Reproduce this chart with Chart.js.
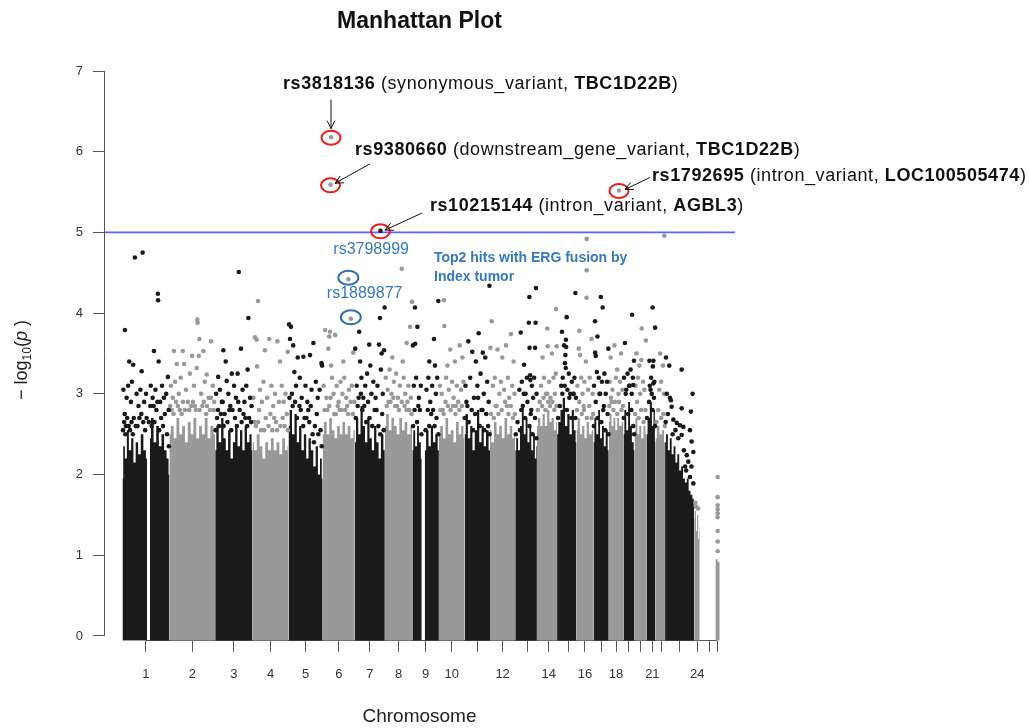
<!DOCTYPE html>
<html>
<head>
<meta charset="utf-8">
<script src="https://cdn.jsdelivr.net/npm/chart.js"></script>
<style>
  html, body { margin: 0; padding: 0; background: #fff; }
</style>
</head>
<body>
<canvas id="manhattan" width="1029" height="728"></canvas>
<script>
// ---- chromosome layout (Mb) ----
const chrNames = ['1','2','3','4','5','6','7','8','9','10','11','12','13','14','15','16','17','18','19','20','21','22','23','24','25','26'];
const chrLength = [249,243,198,191,181,171,159,146,141,136,135,134,115,107,103,90,81,78,59,63,48,51,155,59,44,42];
// span of the snps on each chromosome, the tick sits in the middle
const chrSpan = [[0,249],[0,243],[0,198],[0,191],[0,181],[0,171],[0,159],[0,146],[0,141],[0,136],[0,135],[0,134],[19,115],[19,107],[20,102],[0,90],[0,81],[0,78],[0,59],[0,63],[15,48],[16,51],[0,155],[3,28],[0,44],[20,22]];
const tickShown = ['1','2','3','4','5','6','7','8','9','10','','12','','14','','16','','18','','','21','','','24','',''];
const yTicks = [0, 1, 2, 3, 4, 5, 6, 7];
const suggestive = 5;

// ---- dense body of each chromosome: [pos Mb, -log10 p at the top of the solid mass] ----
const chr1Top = [[0,1.95],[8,2.35],[18,2.2],[28,2.55],[40,2.3],[52,2.45],[64,2.15],[76,2.4],[90,2.25],[104,2.5],[118,2.3],[131,2.2],[138,null],[145,2.45],[158,2.7],[172,2.4],[186,2.6],[200,2.35],[214,2.5],[228,2.3],[240,2.2],[249,2.0]];
const chr2Top = [[0,2.5],[15,2.6],[30,2.45],[45,2.7],[60,2.5],[75,2.6],[90,2.4],[105,2.65],[120,2.5],[135,2.7],[150,2.45],[165,2.6],[180,2.5],[195,2.7],[210,2.45],[225,2.6],[243,2.5]];
const chr3Top = [[0,2.3],[12,2.6],[25,2.4],[38,2.7],[50,2.45],[62,2.3],[75,2.55],[88,2.2],[100,2.4],[112,2.6],[125,2.35],[138,2.55],[150,2.3],[162,2.6],[175,2.4],[188,2.5],[198,2.3]];
const chr4Top = [[0,2.4],[15,2.3],[30,2.5],[45,2.35],[60,2.2],[75,2.4],[90,2.3],[105,2.45],[120,2.3],[135,2.4],[150,2.25],[165,2.45],[180,2.3],[191,2.35]];
const chr5Top = [[0,2.6],[12,2.8],[25,2.5],[38,2.75],[50,2.4],[62,2.6],[75,2.3],[88,2.5],[100,2.2],[112,2.45],[125,2.3],[138,2.1],[150,2.35],[162,2.0],[172,2.2],[181,1.95]];
const chr6Top = [[0,2.5],[14,2.65],[28,2.5],[42,2.7],[56,2.55],[70,2.45],[84,2.6],[98,2.5],[112,2.65],[126,2.5],[140,2.6],[155,2.45],[171,2.55]];
const chr7Top = [[0,2.4],[12,2.7],[24,2.5],[36,2.85],[48,2.6],[60,2.4],[72,2.7],[84,2.45],[96,2.3],[108,2.6],[120,2.4],[132,2.2],[144,2.5],[159,2.3]];
const chr8Top = [[0,2.6],[14,2.75],[28,2.55],[42,2.7],[56,2.6],[70,2.5],[84,2.7],[98,2.55],[112,2.65],[126,2.5],[146,2.6]];
const chr9Top = [[0,2.3],[10,2.55],[20,2.35],[30,2.6],[40,2.4],[50,2.2],[58,null],[66,2.3],[80,2.55],[92,2.35],[104,2.6],[116,2.4],[128,2.5],[141,2.3]];
const chr10Top = [[0,2.5],[14,2.6],[28,2.45],[42,2.7],[56,2.5],[70,2.55],[84,2.4],[98,2.65],[112,2.5],[124,2.6],[136,2.45]];
const chr11Top = [[0,2.5],[12,2.75],[24,2.45],[36,2.6],[48,2.3],[60,2.55],[72,2.8],[84,2.4],[96,2.6],[108,2.35],[120,2.55],[135,2.3]];
const chr12Top = [[0,2.55],[14,2.4],[28,2.65],[42,2.5],[56,2.6],[70,2.45],[84,2.7],[98,2.5],[112,2.6],[124,2.45],[134,2.5]];
const chr13Top = [[0,2.3],[10,2.45],[20,2.3],[30,2.6],[40,2.85],[50,2.5],[60,2.7],[70,2.4],[80,2.6],[90,2.3],[100,2.5],[108,2.2],[115,2.35]];
const chr14Top = [[0,2.6],[12,2.7],[24,2.6],[36,2.75],[48,2.6],[60,2.8],[72,2.65],[84,2.7],[96,2.55],[107,2.65]];
const chr15Top = [[0,2.5],[12,2.65],[24,2.8],[36,2.95],[48,2.6],[60,2.75],[72,2.5],[84,2.8],[94,2.55],[103,2.4]];
const chr16Top = [[0,2.55],[12,2.7],[24,2.5],[36,2.6],[48,2.45],[60,2.65],[72,2.5],[90,2.55]];
const chr17Top = [[0,2.4],[10,2.7],[20,2.5],[30,2.8],[40,2.45],[50,2.6],[60,2.35],[70,2.55],[81,2.3]];
const chr18Top = [[0,2.65],[10,2.75],[20,2.6],[30,2.7],[40,2.55],[50,2.7],[60,2.6],[78,2.65]];
const chr19Top = [[0,2.5],[10,2.8],[20,2.55],[30,2.9],[40,2.6],[50,2.4],[59,2.3]];
const chr20Top = [[0,2.55],[10,2.7],[20,2.5],[30,2.6],[42,2.45],[52,2.6],[63,2.5]];
const chr21Top = [[0,2.5],[12,2.7],[24,2.9],[34,2.6],[42,2.8],[48,2.4]];
const chr22Top = [[0,2.45],[14,2.6],[28,2.5],[40,2.55],[51,2.4]];
const chr23Top = [[0,2.4],[10,2.5],[20,2.3],[30,2.45],[40,2.25],[50,2.35],[60,2.15],[70,2.25],[80,2.05],[90,2.1],[100,1.95],[110,1.9],[120,1.95],[130,1.8],[140,1.75],[150,1.7],[155,1.6]];
const chr24Top = [[0,1.45],[6,1.55],[12,1.3],[18,1.5],[24,1.2],[29,1.35]];
const chr25Top = [];
const chr26Top = [[9,0.95],[32,0.92]];

// ---- scattered snps above the dense body: [pos Mb, -log10 p] ----
const chr1Pts = [[66,4.69],[107,4.75],[188,4.24],[189,4.16],[13,3.79],[167,3.53],[192,3.40],[36,3.40],[57,3.36],[102,3.28],[241,3.21],[5,3.05],[22,2.95],[30,3.1],[45,2.9],[50,3.15],[75,3.0],[85,2.85],[95,3.05],[115,2.9],[125,3.0],[150,3.1],[160,2.95],[175,3.05],[200,2.9],[210,3.1],[220,2.95],[232,3.0],[245,2.8],[12,2.75],[60,2.7],[90,2.7],[140,2.65],[180,2.8],[225,2.75],[18,2.6],[40,2.55],[70,2.6],[110,2.65],[165,2.85],[205,2.7],
  [3,2.55],[9,2.65],[15,2.5],[25,2.7],[33,2.6],[48,2.65],[55,2.5],[80,2.6],[100,2.75],[120,2.55],[128,2.7],[148,2.85],[155,2.6],[170,2.65],[185,2.9],[195,2.55],[215,2.6],[236,2.5],[246,2.35]];
const chr2Pts = [[148,3.92],[150,3.88],[159,3.68],[221,3.65],[24,3.53],[71,3.53],[120,3.47],[156,3.47],[180,3.53],[39,3.37],[78,3.37],[109,3.25],[145,3.32],[198,3.24],[8,3.1],[18,2.95],[30,3.15],[50,3.0],[60,3.2],[88,3.05],[98,2.9],[130,3.1],[168,3.0],[188,3.15],[208,2.95],[230,3.1],[238,2.9],[12,2.8],[45,2.85],[115,2.85],[175,2.85],[215,2.8],[65,2.75],[140,2.8],[195,2.75],
  [4,2.85],[22,2.75],[35,2.9],[55,2.8],[72,2.9],[82,2.8],[105,2.8],[125,2.9],[135,2.85],[160,2.8],[182,2.9],[200,2.85],[220,2.95],[235,2.8]];
const chr3Pts = [[125,4.51],[176,3.94],[137,3.56],[43,3.54],[56,3.40],[16,3.21],[88,3.25],[119,3.25],[172,3.30],[61,3.16],[5,3.0],[25,3.05],[35,2.9],[70,3.0],[80,2.85],[100,3.1],[110,2.95],[145,3.05],[155,2.9],[165,3.1],[185,2.95],[193,2.85],[30,2.75],[92,2.8],[150,2.75],[10,2.7],[50,2.75],[130,2.8],[180,2.7],
  [2,2.55],[15,2.8],[20,2.6],[40,2.9],[45,2.6],[65,2.65],[75,2.8],[85,2.55],[105,2.7],[115,2.6],[122,2.9],[140,2.65],[160,2.7],[170,2.6],[190,2.65]];
const chr4Pts = [[29,4.15],[13,3.70],[22,3.67],[89,3.68],[132,3.65],[66,3.54],[146,3.40],[187,3.52],[24,3.34],[5,2.95],[40,3.05],[50,2.9],[58,3.15],[78,2.95],[100,3.1],[110,2.85],[120,3.0],[140,2.9],[155,3.1],[165,2.9],[175,3.0],[35,2.8],[95,2.75],[160,2.7],[70,2.7],[125,2.65],[182,2.75],
  [10,2.65],[18,2.6],[30,2.65],[45,2.55],[62,2.55],[85,2.6],[105,2.55],[115,2.7],[130,2.55],[148,2.6],[170,2.6],[188,2.55]];
const chr5Pts = [[3,3.86],[13,3.83],[8,3.68],[25,3.60],[132,3.63],[49,3.45],[79,3.46],[114,3.48],[31,3.27],[175,3.38],[178,3.35],[40,3.1],[60,3.2],[70,2.95],[90,3.1],[100,2.9],[122,3.05],[145,3.15],[155,2.95],[165,3.05],[58,2.85],[105,2.8],[150,2.75],[18,3.0],[85,2.7],[140,2.6],[170,2.55],
  [5,2.95],[22,2.85],[35,2.9],[45,2.7],[65,2.8],[78,2.6],[95,2.7],[110,2.65],[118,2.85],[128,2.5],[135,2.4],[158,2.5],[176,2.35]];
const chr6Pts = [[13,3.79],[39,3.77],[66,3.73],[35,3.71],[30,3.56],[163,3.51],[5,3.1],[20,2.95],[50,3.2],[58,3.0],[75,3.1],[85,2.9],[95,3.15],[105,3.0],[115,3.2],[125,2.95],[140,3.05],[155,3.1],[168,2.9],[25,2.8],[90,2.8],[130,2.85],[45,3.35],[110,3.4],[70,2.75],
  [10,2.8],[35,2.85],[42,2.95],[62,2.75],[80,2.85],[100,2.8],[120,2.8],[135,2.75],[148,2.9],[160,2.75]];
const chr7Pts = [[158,4.07],[133,3.94],[23,3.77],[76,3.61],[128,3.61],[2,3.56],[142,3.50],[155,3.54],[10,3.1],[35,3.2],[45,2.95],[55,3.1],[65,3.25],[88,3.0],[98,3.15],[110,2.95],[120,3.1],[148,3.0],[40,2.8],[105,2.8],[15,2.85],[28,3.4],[82,3.35],[138,3.3],
  [5,2.7],[20,2.95],[32,3.0],[50,2.85],[60,2.65],[70,2.9],[78,2.7],[92,2.6],[115,2.8],[125,2.6],[135,2.5],[145,2.75],[153,2.55]];
const chr8Pts = [[90,4.55],[144,4.14],[134,3.83],[116,3.63],[5,3.2],[15,3.05],[25,3.3],[35,3.0],[48,3.15],[60,3.25],[70,2.95],[80,3.1],[100,3.2],[108,3.0],[125,3.1],[138,2.95],[20,2.9],[65,2.85],[120,2.9],[40,3.45],[95,3.4],
  [10,2.85],[30,2.9],[45,2.95],[55,2.85],[75,2.8],[90,2.9],[105,2.85],[115,2.8],[130,2.8],[142,2.75]];
const chr9Pts = [[14,4.07],[138,4.15],[27,3.83],[15,3.62],[3,3.60],[115,3.68],[8,3.1],[20,3.2],[35,2.95],[45,3.1],[75,3.05],[85,3.2],[95,2.9],[105,3.1],[125,3.0],[132,3.2],[40,2.8],[100,2.75],[90,3.4],[120,3.35],
  [4,2.6],[12,2.8],[25,2.65],[32,2.85],[48,2.5],[70,2.55],[82,2.8],[90,2.6],[110,2.8],[118,2.6],[128,2.7],[138,2.5]];
const chr10Pts = [[27,4.16],[29,3.84],[60,3.55],[85,3.4],[110,3.6],[45,3.35],[125,3.45],[5,3.1],[15,3.0],[38,3.2],[52,3.05],[70,3.15],[78,2.95],[95,3.1],[102,2.9],[118,3.05],[130,3.15],[20,2.8],[90,2.85],
  [8,2.8],[25,2.75],[35,2.9],[48,2.85],[62,2.8],[75,2.85],[88,2.75],[108,2.8],[122,2.85],[134,2.7]];
const chr11Pts = [[132,4.34],[41,3.52],[97,3.51],[20,3.65],[60,3.4],[75,3.75],[110,3.45],[5,3.1],[30,3.2],[50,2.95],[68,3.1],[85,3.25],[102,3.0],[120,3.15],[128,2.9],[15,2.85],[90,2.8],
  [3,2.7],[10,2.9],[22,2.65],[38,2.8],[45,2.55],[56,2.75],[72,2.95],[80,2.6],[95,2.8],[105,2.55],[115,2.75],[125,2.6],[133,2.5]];
const chr12Pts = [[9,3.9],[2,3.57],[111,3.74],[40,3.55],[65,3.45],[85,3.6],[125,3.4],[15,3.1],[25,3.2],[50,3.0],[58,3.15],[75,3.05],[95,3.2],[102,2.95],[118,3.1],[130,3.0],[30,2.85],[90,2.85],
  [5,2.75],[20,2.7],[35,2.85],[45,2.75],[62,2.8],[80,2.9],[98,2.75],[110,2.85],[122,2.7],[132,2.75]];
const chr13Pts = [[110,4.31],[75,4.2],[72,3.88],[108,3.88],[29,3.76],[76,3.57],[105,3.57],[47,3.36],[79,3.23],[80,3.17],[22,3.05],[35,3.15],[55,3.0],[62,3.2],[88,3.1],[95,2.95],[100,3.2],[113,3.0],[40,2.85],[85,2.8],
  [3,2.5],[12,2.65],[25,2.55],[32,2.8],[45,3.0],[52,2.7],[65,2.9],[75,2.6],[82,2.75],[92,2.5],[105,2.7],[112,2.45]];
const chr14Pts = [[101,4.05],[55,3.81],[57,3.59],[105,3.59],[30,3.45],[80,3.5],[22,3.1],[38,3.2],[48,3.0],[65,3.15],[72,2.95],[88,3.2],[95,3.0],[100,3.25],[28,2.85],[60,2.9],
  [5,2.8],[15,2.9],[35,2.95],[45,2.8],[55,3.0],[70,2.85],[82,2.9],[92,2.8],[104,2.85]];
const chr15Pts = [[97,4.25],[51,3.95],[26,3.77],[47,3.67],[37,3.6],[48,3.58],[44,3.48],[42,3.38],[46,3.32],[22,3.1],[30,3.2],[55,3.05],[62,3.25],[70,3.0],[78,3.15],[85,3.0],[92,3.2],[100,2.95],
  [5,2.7],[15,2.85],[28,3.0],[40,3.1],[52,2.8],[65,2.95],[75,2.7],[88,3.0],[97,2.7]];
const chr16Pts = [[54,4.92],[54,4.53],[53,4.19],[15,3.78],[12,3.56],[19,3.48],[50,3.40],[80,3.68],[5,3.1],[25,3.2],[32,3.0],[42,3.15],[62,3.05],[70,3.2],[86,3.0],[38,2.85],
  [3,2.8],[15,2.9],[28,2.75],[40,2.8],[55,2.7],[68,2.85],[80,2.7],[88,2.75]];
const chr17Pts = [[39,4.2],[49,4.07],[8,3.9],[21,3.71],[79,3.56],[9,3.51],[12,3.47],[18,3.27],[3,3.1],[28,3.2],[35,3.0],[45,3.15],[58,3.25],[65,3.0],[72,3.15],[55,2.85],
  [2,2.6],[12,2.9],[22,2.7],[32,3.0],[42,2.65],[52,2.8],[62,2.55],[75,2.75],[80,2.5]];
const chr18Pts = [[10,3.45],[30,3.6],[45,3.3],[65,3.5],[5,3.15],[20,3.05],[38,3.2],[52,3.0],[60,3.15],[72,3.05],[15,2.9],
  [3,2.85],[12,2.95],[25,2.8],[33,2.9],[45,2.75],[55,2.9],[68,2.8],[76,2.85]];
const chr19Pts = [[46,3.98],[8,3.63],[56,3.41],[52,3.11],[3,3.2],[15,3.05],[22,3.25],[30,3.1],[38,3.3],[44,3.0],[50,3.2],
  [2,2.7],[12,3.0],[25,2.75],[33,3.1],[42,2.8],[52,2.6],[57,2.5]];
const chr20Pts = [[38,3.81],[60,3.66],[36,3.42],[10,3.5],[25,3.35],[5,3.1],[18,3.2],[30,3.0],[45,3.15],[52,3.05],
  [3,2.75],[13,2.9],[22,2.7],[35,2.8],[48,2.65],[58,2.8]];
const chr21Pts = [[33,4.07],[46,3.82],[16,3.41],[37,3.41],[34,3.34],[37,3.13],[18,3.1],[25,3.2],[28,3.0],[42,3.15],
  [3,2.7],[14,2.9],[22,3.05],[32,2.8],[40,2.95],[46,2.6]];
const chr22Pts = [[47,4.96],[25,3.5],[40,3.35],[20,3.05],[30,3.15],[45,3.0],
  [5,2.65],[15,2.8],[30,2.7],[42,2.75],[50,2.6]];
const chr23Pts = [[5,3.45],[22,3.35],[88,3.3],[146,3.0],[137,2.78],[9,3.0],[31,2.92],[88,2.82],[26,2.95],[35,2.84],[44,2.68],[62,2.64],[79,2.61],[97,2.59],[132,2.55],[88,2.49],[141,2.41],[150,2.28],[115,2.24],[123,2.16],[106,2.1],[132,1.97],[150,1.89],
  [3,2.65],[15,2.75],[40,2.5],[55,2.55],[70,2.45],[100,2.3],[112,2.05],[140,2.1]];
const chr24Pts = [[10,1.6],[20,1.58],[6,1.65]];
const chr25Pts = [];
const chr26Pts = [[21,1.97],[21,1.72],[21,1.62],[21,1.57],[21,1.52],[21,1.47],[21,1.3],[21,1.17],[21,1.05]];

// ---- annotated hits ----
const hitId = ['rs3818136', 'rs9380660', 'rs10215144', 'rs1792695', 'rs3798999', 'rs1889877'];
const hitChr = [6, 6, 7, 18, 6, 6];
const hitPos = [44.6, 41.9, 135.8, 54.7, 136.4, 149.6];
const hitLogP = [6.18, 5.59, 5.02, 5.52, 4.42, 3.93];
const hitConsequence = ['synonymous_variant', 'downstream_gene_variant', 'intron_variant', 'intron_variant', '', ''];
const hitGene = ['TBC1D22B', 'TBC1D22B', 'AGBL3', 'LOC100505474', '', ''];
const ergNote = ['Top2 hits with ERG fusion by', 'Index tumor'];

// label placement, pixels relative to the point
const hitLayout = [
  { mark: 'red', text: [-48, -53.5], from: [0, -37.5], to: [0, -8.5] },
  { mark: 'red', text: [24.5, -35], from: [39.5, -21], to: [4.5, -1.5] },
  { mark: 'red', text: [49.5, -24.7], from: [41.5, -17.7], to: [4.5, -0.7] },
  { mark: 'red', text: [33, -14], from: [31, -13], to: [6, -1] },
  { mark: 'blue', text: [-15, -29.3] },
  { mark: 'blue', text: [-24, -25] }
];

const FONT = '"Liberation Sans", Arial, Helvetica, sans-serif';
const BLACK = '#1a1a1a', GRAY = '#999999';
const BLUE_TXT = '#3578bd', RED = '#ee1c1c';
const xMin = -98, xMax = 3250, yMin = -0.06, yMax = 7;

const chrTops = [chr1Top, chr2Top, chr3Top, chr4Top, chr5Top, chr6Top, chr7Top, chr8Top, chr9Top, chr10Top, chr11Top, chr12Top, chr13Top, chr14Top, chr15Top, chr16Top, chr17Top, chr18Top, chr19Top, chr20Top, chr21Top, chr22Top, chr23Top, chr24Top, chr25Top, chr26Top];
const chrPts = [chr1Pts, chr2Pts, chr3Pts, chr4Pts, chr5Pts, chr6Pts, chr7Pts, chr8Pts, chr9Pts, chr10Pts, chr11Pts, chr12Pts, chr13Pts, chr14Pts, chr15Pts, chr16Pts, chr17Pts, chr18Pts, chr19Pts, chr20Pts, chr21Pts, chr22Pts, chr23Pts, chr24Pts, chr25Pts, chr26Pts];

const chrOffset = [];
let acc = 0;
chrLength.forEach(len => { chrOffset.push(acc); acc += len; });
const tickPos = chrSpan.map((s, i) => chrOffset[i] + (s[0] + s[1]) / 2);

const blackPts = [], grayPts = [];
chrPts.forEach((list, i) => {
  list.forEach(([p, v]) => (i % 2 ? grayPts : blackPts).push({ x: chrOffset[i] + p, y: v }));
});
hitId.forEach((id, k) => {
  const i = hitChr[k] - 1;
  (i % 2 ? grayPts : blackPts).push({ x: chrOffset[i] + hitPos[k], y: hitLogP[k] });
});

const datasets = [
  { type: 'scatter', data: blackPts, backgroundColor: BLACK, pointRadius: 2.3, borderWidth: 0, order: 0 },
  { type: 'scatter', data: grayPts, backgroundColor: GRAY, pointRadius: 2.3, borderWidth: 0, order: 0 },
  { type: 'line', data: [{ x: xMin, y: suggestive }, { x: xMax, y: suggestive }], borderColor: 'rgb(96,96,255)', borderWidth: 1.6, pointRadius: 0, order: 1 }
];
chrTops.forEach((top, i) => {
  if (!top.length) return;
  datasets.push({
    type: 'line',
    data: top.map(([p, v]) => ({ x: chrOffset[i] + p, y: v })),
    backgroundColor: i % 2 ? GRAY : BLACK,
    borderColor: 'rgba(0,0,0,0)',
    borderWidth: 1,
    pointRadius: 0,
    stepped: 'middle',
    spanGaps: false,
    fill: 'start',
    order: 2
  });
});

function richText(ctx, x, y, parts, size, color, spacing) {
  ctx.fillStyle = color;
  ctx.textBaseline = 'middle';
  ctx.textAlign = 'left';
  ctx.letterSpacing = spacing || '0px';
  let cx = x;
  parts.forEach(([txt, bold]) => {
    ctx.font = (bold ? 'bold ' : '') + size + 'px ' + FONT;
    ctx.fillText(txt, cx, y);
    cx += ctx.measureText(txt).width;
  });
  ctx.letterSpacing = '0px';
}

function arrow(ctx, x1, y1, x2, y2) {
  const a = Math.atan2(y2 - y1, x2 - x1), h = 9, w = Math.PI / 7;
  ctx.beginPath();
  ctx.moveTo(x1, y1);
  ctx.lineTo(x2, y2);
  ctx.moveTo(x2 - h * Math.cos(a - w), y2 - h * Math.sin(a - w));
  ctx.lineTo(x2, y2);
  ctx.lineTo(x2 - h * Math.cos(a + w), y2 - h * Math.sin(a + w));
  ctx.stroke();
}

const decor = {
  id: 'decor',
  beforeDatasetsDraw(chart) {
    const { ctx, chartArea: a, scales: { x } } = chart;
    ctx.save();
    ctx.strokeStyle = '#555';
    ctx.lineWidth = 1;
    ctx.beginPath();
    const yb = Math.round(a.bottom) - 0.5;
    ctx.moveTo(x.getPixelForValue(tickPos[0]), yb);
    ctx.lineTo(x.getPixelForValue(tickPos[tickPos.length - 1]), yb);
    ctx.stroke();
    ctx.restore();
  },
  afterDraw(chart) {
    const { ctx, chartArea: a, scales: { x, y } } = chart;
    ctx.save();
    // y axis line, 0 .. 7 only
    ctx.strokeStyle = '#555';
    ctx.lineWidth = 1;
    ctx.beginPath();
    const xl = Math.round(a.left) + 0.5;
    ctx.moveTo(xl, y.getPixelForValue(yTicks[yTicks.length - 1]));
    ctx.lineTo(xl, y.getPixelForValue(yTicks[0]));
    ctx.stroke();

    const cx = (a.left + a.right) / 2;
    ctx.fillStyle = '#111';
    ctx.textAlign = 'center';
    ctx.textBaseline = 'middle';
    ctx.font = 'bold 23px ' + FONT;
    ctx.fillText('Manhattan Plot', cx, 22);
    ctx.fillStyle = '#222';
    ctx.font = '19px ' + FONT;
    ctx.fillText('Chromosome', cx, 717);

    // y title: -log10(p)
    ctx.save();
    ctx.translate(21, 360);
    ctx.rotate(-Math.PI / 2);
    const yParts = [['\u2212 log', '', 18, 0], ['10', '', 12, 4], ['(', '', 18, 0], ['p', 'italic ', 18, 0], [' )', '', 18, 0]];
    let total = 0;
    yParts.forEach(([t, st, s]) => { ctx.font = st + s + 'px ' + FONT; total += ctx.measureText(t).width; });
    let px = -total / 2;
    ctx.textAlign = 'left';
    ctx.textBaseline = 'alphabetic';
    ctx.fillStyle = '#222';
    yParts.forEach(([t, st, s, dy]) => {
      ctx.font = st + s + 'px ' + FONT;
      ctx.fillText(t, px, 6 + dy);
      px += ctx.measureText(t).width;
    });
    ctx.restore();

    // hits
    hitId.forEach((id, k) => {
      const i = hitChr[k] - 1;
      const hx = x.getPixelForValue(chrOffset[i] + hitPos[k]);
      const hy = y.getPixelForValue(hitLogP[k]);
      const L = hitLayout[k];
      ctx.lineWidth = 2;
      ctx.beginPath();
      if (L.mark === 'red') {
        ctx.strokeStyle = RED;
        ctx.ellipse(hx, hy + 0.5, 9.5, 7, 0, 0, Math.PI * 2);
        ctx.stroke();
        ctx.strokeStyle = '#111';
        ctx.lineWidth = 1;
        arrow(ctx, hx + L.from[0], hy + L.from[1], hx + L.to[0], hy + L.to[1]);
        richText(ctx, hx + L.text[0], hy + L.text[1],
          [[id, true], [' (' + hitConsequence[k] + ', ', false], [hitGene[k], true], [')', false]], 18, '#111', '0.58px');
      } else {
        ctx.strokeStyle = '#2f6fb3';
        ctx.ellipse(hx, hy - 1.5, 10, 7, 0, 0, Math.PI * 2);
        ctx.stroke();
        richText(ctx, hx + L.text[0], hy + L.text[1], [[id, false]], 16, BLUE_TXT);
      }
    });
    ctx.font = 'bold 14px ' + FONT;
    ctx.fillStyle = BLUE_TXT;
    ctx.textAlign = 'left';
    ctx.textBaseline = 'middle';
    ctx.fillText(ergNote[0], 434, 258);
    ctx.fillText(ergNote[1], 434, 277);
    ctx.restore();
  }
};

new Chart(document.getElementById('manhattan').getContext('2d'), {
  type: 'scatter',
  data: { datasets },
  options: {
    responsive: false,
    animation: false,
    events: [],
    layout: { padding: { left: 0, right: 294, top: 71, bottom: 0 } },
    plugins: {
      legend: { display: false },
      tooltip: { enabled: false },
      title: { display: false }
    },
    scales: {
      x: {
        type: 'linear',
        min: xMin,
        max: xMax,
        afterFit(s) { s.height = 728 - 640.8; },
        afterBuildTicks(s) { s.ticks = tickPos.map(v => ({ value: v })); },
        grid: { drawOnChartArea: false, drawTicks: true, tickLength: 11, color: '#555' },
        border: { display: false },
        ticks: {
          autoSkip: false, maxRotation: 0, minRotation: 0, padding: 15, color: '#333',
          font: { size: 13, family: FONT },
          callback: (v, i) => tickShown[i]
        }
      },
      y: {
        type: 'linear',
        min: yMin,
        max: yMax,
        afterFit(s) { s.width = 104; },
        afterBuildTicks(s) { s.ticks = yTicks.map(v => ({ value: v })); },
        grid: { drawOnChartArea: false, drawTicks: true, tickLength: 11, color: '#555' },
        border: { display: false },
        ticks: {
          padding: 10, color: '#333',
          font: { size: 13, family: FONT },
          callback: v => String(v)
        }
      }
    }
  },
  plugins: [decor]
});
</script>
</body>
</html>
